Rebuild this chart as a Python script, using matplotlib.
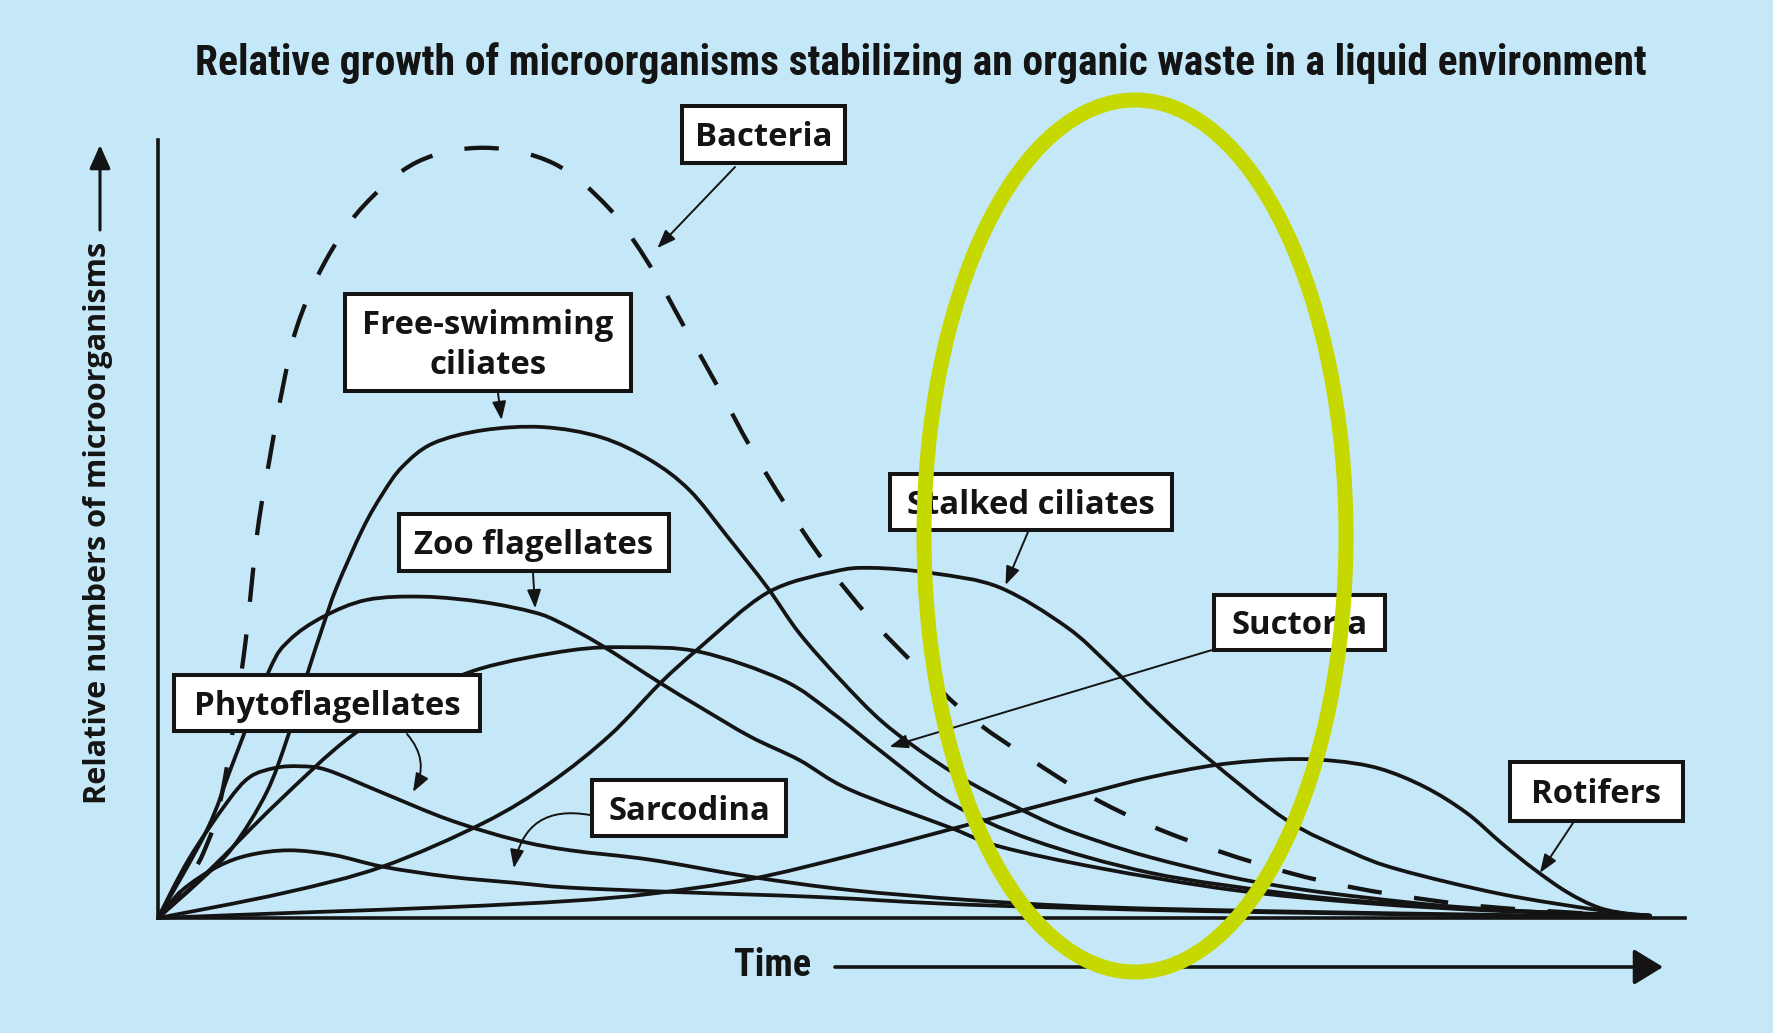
import matplotlib
matplotlib.use("Agg")
import matplotlib.pyplot as plt
from matplotlib import font_manager
from matplotlib.patches import Ellipse, Rectangle, PathPatch
from matplotlib.path import Path

W, H, DPI = 1774, 1033, 100
BG = "#c5e8f8"
INK = "#141414"
RING = "#c5d900"

# ---------------- data: relative numbers (0-100) against time (0-100) ----------------
bacteria_t = [0, 1.5, 3.0, 4.2, 5.6, 6.5, 7.3, 8.1, 9.1, 10.9, 13.4, 17.0, 21.4, 25.9, 29.5,
              32.2, 34.4, 36.6, 38.8, 41.2, 43.7, 46.6, 49.7, 53.2, 57.0, 60.9, 65.2, 69.6,
              74.1, 78.3, 83.3, 87.9, 94.4, 97.7]
bacteria_n = [0, 3.5, 8.5, 16.1, 33.5, 49.5, 58.9, 67.5, 76.0, 84.2, 91.4, 97.2, 99.0, 97.0, 91.3,
              83.9, 76.2, 68.5, 60.5, 52.8, 45.6, 38.6, 32.3, 25.8, 20.6, 15.8, 11.7, 8.5,
              5.8, 3.9, 2.3, 1.3, 0.5, 0.3]

free_swimming_t = [0, 2.8, 4.9, 7.1, 8.5, 9.8, 10.8, 11.7, 13.4, 14.7, 16.0, 18.0, 21.3, 25.2,
                   29.0, 32.2, 34.8, 37.3, 39.9, 42.0, 44.7, 47.5, 50.8, 54.0, 58.4, 61.7, 65.0,
                   70.4, 74.8, 79.2, 84.6, 91.2, 97.7]
free_swimming_n = [0, 4.9, 9.1, 16.1, 23.3, 31.5, 37.5, 42.5, 50.0, 54.5, 58.0, 61.0, 62.7, 63.1,
                   61.8, 58.9, 55.0, 49.0, 42.5, 36.6, 30.6, 25.1, 20.3, 16.5, 12.2, 9.8, 7.8,
                   5.2, 3.7, 2.6, 1.5, 0.7, 0.3]

zoo_t = [0, 3.2, 4.9, 7.3, 8.6, 10.8, 13.7, 17.4, 21.3, 24.6, 26.3, 29.0, 32.9, 35.5, 38.8,
         42.0, 45.3, 51.9, 55.1, 61.7, 70.4, 79.2, 87.9, 97.7]
zoo_n = [0, 11.3, 19.9, 31.9, 35.7, 38.7, 40.9, 41.3, 40.6, 39.3, 38.0, 35.1, 30.2, 27.1, 23.3,
         20.3, 16.5, 11.6, 9.2, 6.4, 3.6, 1.9, 0.9, 0.3]

phyto_t = [0, 2.0, 4.5, 6.0, 7.7, 9.3, 11.1, 14.7, 19.1, 23.5, 27.0, 32.2, 38.8, 45.3, 53.2,
           61.7, 74.8, 87.9, 97.7]
phyto_n = [0, 7.5, 14.8, 18.1, 19.3, 19.5, 19.0, 16.1, 12.6, 10.0, 8.7, 7.5, 5.3, 3.6, 2.3,
           1.4, 0.8, 0.4, 0.1]

sarcodina_t = [0, 1.6, 3.9, 6.0, 8.6, 11.5, 14.7, 19.1, 23.5, 27.0, 34.4, 43.2, 53.2, 68.2,
               87.9, 97.7]
sarcodina_n = [0, 3.6, 6.6, 8.1, 8.7, 8.1, 6.6, 5.3, 4.5, 3.9, 3.3, 2.7, 1.7, 0.9, 0.3, 0.1]

suctoria_t = [0, 3.4, 7.8, 12.6, 17.2, 21.2, 27.0, 31.0, 35.5, 40.9, 44.2, 47.5, 51.9, 57.3,
              65.0, 73.7, 79.2, 87.9, 97.7]
suctoria_n = [0, 6.2, 14.8, 23.3, 28.7, 32.1, 34.4, 34.8, 34.2, 30.6, 26.3, 21.2, 14.8, 10.0,
              5.8, 3.2, 2.1, 1.0, 0.3]

stalked_t = [0, 8.2, 14.7, 21.3, 25.7, 29.6, 32.9, 35.5, 39.9, 44.2, 46.8, 50.8, 55.1, 59.5,
             62.3, 65.6, 68.9, 73.9, 78.1, 81.3, 87.9, 94.4, 97.7]
stalked_n = [0, 3.2, 6.6, 12.2, 17.4, 23.5, 30.2, 34.8, 41.8, 44.5, 45.0, 44.3, 42.5, 37.4,
             32.5, 26.1, 20.3, 12.6, 8.5, 6.2, 3.1, 1.0, 0.3]

rotifers_t = [0, 9.3, 19.1, 27.0, 32.2, 38.8, 45.3, 51.9, 57.3, 61.0, 65.0, 69.4, 73.7, 77.0,
              80.0, 83.0, 85.7, 88.0, 90.1, 92.3, 94.4, 96.6, 97.7]
rotifers_n = [0, 0.7, 1.4, 2.2, 3.1, 5.0, 8.0, 11.4, 14.2, 16.1, 18.1, 19.7, 20.4, 20.2,
              19.2, 16.8, 13.5, 9.6, 6.3, 3.3, 1.3, 0.4, 0.1]

# label text, and the point on each curve its arrow indicates (time, number)
labels = ["Bacteria", "Free-swimming\nciliates", "Zoo flagellates", "Phytoflagellates",
          "Sarcodina", "Stalked ciliates", "Suctoria", "Rotifers"]
arrow_tips = [(32.7, 86.1), (22.5, 64.0), (24.7, 39.8), (16.7, 16.2),
              (23.3, 6.4), (55.5, 42.8), (47.9, 22.0), (90.5, 5.8)]

title = "Relative growth of microorganisms stabilizing an organic waste in a liquid environment"
ylabel = "Relative numbers of microorganisms"
xlabel = "Time"

# ---------------- fonts ----------------
avail = {f.name for f in font_manager.fontManager.ttflist}


def pick(*names):
    for n in names:
        if n in avail:
            return n
    return "DejaVu Sans"


NARROW = pick("Liberation Sans Narrow", "Roboto Condensed", "Open Sans Condensed", "Lato")
BOXFONT = pick("Open Sans", "Lato", "Noto Sans")

# ---------------- figure & axes ----------------
fig = plt.figure(figsize=(W / DPI, H / DPI), dpi=DPI, facecolor=BG)


def fx(px):
    return px / W


def fy(py):
    return 1 - py / H


ax = fig.add_axes([fx(158), fy(918), fx(1685) - fx(158), fy(140) - fy(918)])
ax.set_xlim(0, 100)
ax.set_ylim(0, 100)
ax.set_facecolor("none")
ax.set_xticks([])
ax.set_yticks([])
for s in ("top", "right"):
    ax.spines[s].set_visible(False)
for s in ("left", "bottom"):
    ax.spines[s].set_linewidth(2.6)
    ax.spines[s].set_color(INK)
    ax.spines[s].set_capstyle("projecting")


def smooth_path(t, n):
    """Smooth curve through the given points (Catmull-Rom spline as cubic Bezier)."""
    pts = list(zip(t, n))
    verts = [pts[0]]
    codes = [Path.MOVETO]
    for i in range(len(pts) - 1):
        p0 = pts[i - 1] if i > 0 else pts[i]
        p1, p2 = pts[i], pts[i + 1]
        p3 = pts[i + 2] if i + 2 < len(pts) else pts[i + 1]
        c1 = (p1[0] + (p2[0] - p0[0]) / 6, p1[1] + (p2[1] - p0[1]) / 6)
        c2 = (p2[0] - (p3[0] - p1[0]) / 6, p2[1] - (p3[1] - p1[1]) / 6)
        verts += [c1, c2, p2]
        codes += [Path.CURVE4] * 3
    return Path(verts, codes)


def draw_curve(t, n, **kw):
    patch = PathPatch(smooth_path(t, n), fill=False, edgecolor=INK, transform=ax.transData,
                      clip_on=False, **kw)
    patch.set_capstyle("round" if kw.get("linestyle", "-") == "-" else "butt")
    patch.set_joinstyle("round")
    ax.add_patch(patch)


draw_curve(bacteria_t, bacteria_n, lw=3.1, linestyle=(0, (8.0, 7.6)))
for t, n in [(free_swimming_t, free_swimming_n), (zoo_t, zoo_n), (phyto_t, phyto_n),
             (sarcodina_t, sarcodina_n), (suctoria_t, suctoria_n),
             (stalked_t, stalked_n), (rotifers_t, rotifers_n)]:
    draw_curve(t, n, lw=2.7, linestyle="-")

# ---------------- label boxes ----------------
boxes = [(680, 104, 847, 165), (343, 292, 633, 393), (397, 512, 671, 573), (172, 673, 482, 733),
         (590, 778, 788, 838), (888, 472, 1174, 532), (1212, 593, 1387, 652),
         (1508, 760, 1685, 823)]
arrow_tails = [(735, 167), (498, 393), (533, 573), (407, 734),
               (590, 815), (1028, 532), (1212, 650), (1573, 823)]
arrow_rads = [0, 0, 0, -0.35, 0.5, 0, 0, 0]

renderer = fig.canvas.get_renderer()


def fit_width(txt, target, vertical=False):
    bb = txt.get_window_extent(renderer)
    cur = bb.height if vertical else bb.width
    txt.set_fontsize(txt.get_fontsize() * target / cur)


# common box font size from the widest single-line label
probe = fig.text(0, 0, "Phytoflagellates", fontsize=22, fontweight="bold", family=BOXFONT)
fit_width(probe, 265)
box_fs = probe.get_fontsize()
probe.remove()
cap = 0.72 * box_fs * DPI / 72

bw = 2.9  # box border, points
inset = bw * DPI / 72 / 2
for (x0, y0, x1, y1), lab in zip(boxes, labels):
    fig.add_artist(Rectangle((fx(x0 + inset), fy(y1 - inset)),
                             fx(x1 - x0 - 2 * inset), (y1 - y0 - 2 * inset) / H,
                             transform=fig.transFigure, facecolor="white",
                             edgecolor=INK, lw=bw, zorder=5))
    cx = (x0 + x1) / 2
    lines = lab.split("\n")
    cy = (y0 + y1) / 2
    step = 40
    first = cy - step * (len(lines) - 1) / 2
    for i, line in enumerate(lines):
        base = first + i * step + cap / 2
        fig.text(fx(cx), fy(base), line, ha="center", va="baseline", fontsize=box_fs,
                 fontweight="bold", family=BOXFONT, color=INK, zorder=6)

for (tx, ty), tip, rad in zip(arrow_tails, arrow_tips, arrow_rads):
    ax.annotate("", xy=tip, xycoords="data", xytext=(tx, H - ty), textcoords="figure pixels",
                annotation_clip=False,
                arrowprops=dict(arrowstyle="-|>,head_length=0.8,head_width=0.3",
                                mutation_scale=14, lw=1.4, color=INK, shrinkA=0, shrinkB=0,
                                connectionstyle=f"arc3,rad={rad}"))

# ---------------- title and axis captions ----------------
ttl = fig.text(fx(921), fy(75), title, ha="center", va="baseline", fontsize=22,
               fontweight="bold", family=NARROW, color=INK)
fit_width(ttl, 1450)

yl = fig.text(fx(98), fy(523), ylabel, ha="center", va="center", rotation=90, fontsize=20,
              fontweight="bold", family=BOXFONT, color=INK)
fit_width(yl, 562, vertical=True)
fig.add_artist(matplotlib.text.Annotation(
    "", xy=(100, H - 145), xycoords="figure pixels", xytext=(100, H - 230),
    textcoords="figure pixels",
    arrowprops=dict(arrowstyle="-|>,head_length=0.9,head_width=0.4", mutation_scale=16,
                    lw=2.2, color=INK, shrinkA=0, shrinkB=0)))

tm = fig.text(fx(773), fy(976), xlabel, ha="center", va="baseline", fontsize=22,
              fontweight="bold", family=NARROW, color=INK)
fit_width(tm, 77)
fig.add_artist(matplotlib.text.Annotation(
    "", xy=(1663, H - 967), xycoords="figure pixels", xytext=(835, H - 967),
    textcoords="figure pixels",
    arrowprops=dict(arrowstyle="-|>,head_length=0.9,head_width=0.55", mutation_scale=20,
                    lw=2.6, color=INK, shrinkA=0, shrinkB=0)))

# ---------------- highlight ring ----------------
fig.add_artist(Ellipse((fx(1135), fy(536)), 422 / W, 872 / H, transform=fig.transFigure,
                       fill=False, edgecolor=RING, lw=10.8, zorder=10))

fig.savefig("out.png", dpi=DPI, facecolor=BG)
